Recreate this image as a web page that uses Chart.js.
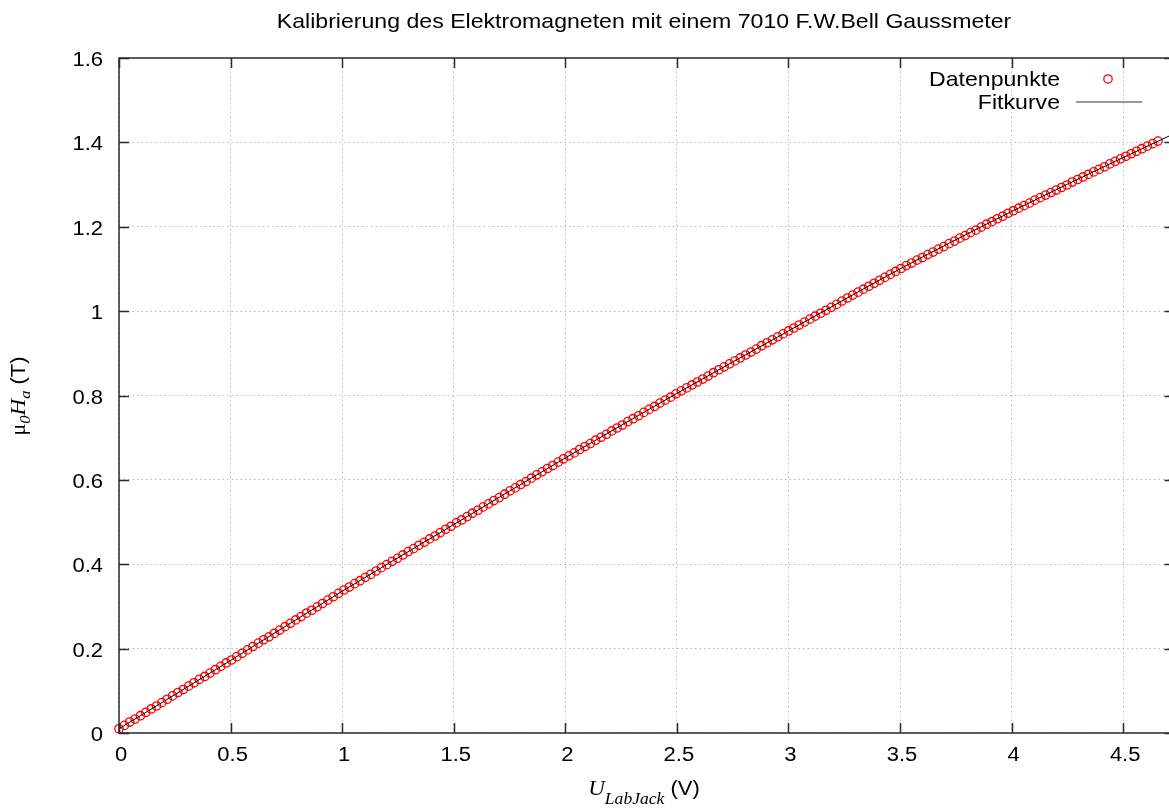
<!DOCTYPE html>
<html>
<head>
<meta charset="utf-8">
<script src="https://cdn.jsdelivr.net/npm/chart.js@4.4.0/dist/chart.umd.min.js"></script>
<style>
  html, body { margin: 0; padding: 0; background: #fff; overflow: hidden; }
  #box { width: 1180px; height: 810px; }
</style>
</head>
<body>
<div id="box"><canvas id="kalib" width="1180" height="810"></canvas></div>
<script>
// Messwerte: LabJack-Spannung (V) und Feld mu0*Ha (T)
var voltage = [
  0, 0.024, 0.048, 0.072, 0.096, 0.120, 0.144, 0.168, 0.192, 0.216,
  0.240, 0.264, 0.288, 0.312, 0.336, 0.360, 0.384, 0.408, 0.432, 0.456,
  0.480, 0.504, 0.528, 0.552, 0.576, 0.600, 0.624, 0.648, 0.672, 0.696,
  0.720, 0.744, 0.768, 0.792, 0.816, 0.840, 0.864, 0.888, 0.912, 0.936,
  0.960, 0.984, 1.008, 1.032, 1.056, 1.080, 1.104, 1.128, 1.152, 1.176,
  1.200, 1.224, 1.248, 1.272, 1.296, 1.320, 1.344, 1.368, 1.392, 1.416,
  1.440, 1.464, 1.488, 1.512, 1.536, 1.560, 1.584, 1.608, 1.632, 1.656,
  1.680, 1.704, 1.728, 1.752, 1.776, 1.800, 1.824, 1.848, 1.872, 1.896,
  1.920, 1.944, 1.968, 1.992, 2.016, 2.040, 2.064, 2.088, 2.112, 2.136,
  2.160, 2.184, 2.208, 2.232, 2.256, 2.280, 2.304, 2.328, 2.352, 2.376,
  2.400, 2.424, 2.448, 2.472, 2.496, 2.520, 2.544, 2.568, 2.592, 2.616,
  2.640, 2.664, 2.688, 2.712, 2.736, 2.760, 2.784, 2.808, 2.832, 2.856,
  2.880, 2.904, 2.928, 2.952, 2.976, 3.000, 3.024, 3.048, 3.072, 3.096,
  3.120, 3.144, 3.168, 3.192, 3.216, 3.240, 3.264, 3.288, 3.312, 3.336,
  3.360, 3.384, 3.408, 3.432, 3.456, 3.480, 3.504, 3.528, 3.552, 3.576,
  3.600, 3.624, 3.648, 3.672, 3.696, 3.720, 3.744, 3.768, 3.792, 3.816,
  3.840, 3.864, 3.888, 3.912, 3.936, 3.960, 3.984, 4.008, 4.032, 4.056,
  4.080, 4.104, 4.128, 4.152, 4.176, 4.200, 4.224, 4.248, 4.272, 4.296,
  4.320, 4.344, 4.368, 4.392, 4.416, 4.440, 4.464, 4.488, 4.512, 4.536,
  4.560, 4.584, 4.608, 4.632, 4.656
];
var field = [
  0.010, 0.018, 0.026, 0.033, 0.041, 0.049, 0.057, 0.064, 0.072, 0.080,
  0.088, 0.096, 0.103, 0.111, 0.119, 0.127, 0.134, 0.142, 0.150, 0.158,
  0.166, 0.173, 0.181, 0.189, 0.197, 0.205, 0.213, 0.221, 0.228, 0.236,
  0.244, 0.252, 0.260, 0.268, 0.276, 0.284, 0.291, 0.299, 0.307, 0.315,
  0.323, 0.331, 0.339, 0.346, 0.354, 0.361, 0.369, 0.376, 0.384, 0.392,
  0.399, 0.407, 0.414, 0.422, 0.430, 0.437, 0.445, 0.452, 0.460, 0.467,
  0.475, 0.483, 0.490, 0.498, 0.505, 0.513, 0.521, 0.528, 0.536, 0.543,
  0.551, 0.558, 0.566, 0.574, 0.581, 0.589, 0.596, 0.604, 0.612, 0.619,
  0.627, 0.634, 0.642, 0.650, 0.657, 0.664, 0.672, 0.679, 0.686, 0.694,
  0.701, 0.708, 0.716, 0.723, 0.730, 0.738, 0.745, 0.752, 0.760, 0.767,
  0.774, 0.782, 0.789, 0.796, 0.804, 0.811, 0.818, 0.825, 0.832, 0.839,
  0.846, 0.854, 0.861, 0.868, 0.875, 0.882, 0.889, 0.896, 0.903, 0.910,
  0.918, 0.925, 0.932, 0.939, 0.946, 0.953, 0.960, 0.967, 0.974, 0.981,
  0.988, 0.995, 1.002, 1.009, 1.016, 1.024, 1.031, 1.038, 1.045, 1.052,
  1.059, 1.066, 1.073, 1.080, 1.087, 1.094, 1.101, 1.108, 1.114, 1.121,
  1.127, 1.134, 1.140, 1.147, 1.153, 1.160, 1.166, 1.173, 1.179, 1.186,
  1.192, 1.199, 1.206, 1.212, 1.219, 1.225, 1.232, 1.238, 1.244, 1.250,
  1.256, 1.263, 1.269, 1.275, 1.281, 1.287, 1.293, 1.299, 1.306, 1.312,
  1.318, 1.324, 1.330, 1.336, 1.342, 1.349, 1.355, 1.361, 1.367, 1.373,
  1.379, 1.385, 1.391, 1.397, 1.403
];

// Fitkurve, Stuetzstellen
var fitVoltage = [0, 0.5, 1, 1.5, 2, 2.5, 3, 3.5, 4, 4.5, 4.73];
var fitField = [0.010, 0.172, 0.336, 0.494, 0.652, 0.805, 0.953, 1.100, 1.236, 1.364, 1.421];

var xTicks = [0, 0.5, 1, 1.5, 2, 2.5, 3, 3.5, 4, 4.5];
var yTicks = [0, 0.2, 0.4, 0.6, 0.8, 1, 1.2, 1.4, 1.6];

var titel = "Kalibrierung des Elektromagneten mit einem 7010 F.W.Bell Gaussmeter";
var legendNames = ["Datenpunkte", "Fitkurve"];

var SANS = '"Liberation Sans", Arial, sans-serif';
var SERIF = '"Liberation Serif", "Times New Roman", serif';
var SX = 1.1; // Schrift etwas breiter

function put(ctx, str, x, y, font, align) {
   ctx.save();
   ctx.font = font;
   ctx.textAlign = align;
   ctx.textBaseline = "alphabetic";
   ctx.fillStyle = "#000";
   ctx.translate(x, y);
   ctx.scale(SX, 1);
   ctx.fillText(str, 0, 0);
   ctx.restore();
}

// mehrere Textstuecke (Index usw.) zentriert nebeneinander
function putRuns(ctx, parts, cx, base) {
   var w = 0;
   parts.forEach(function (p) { ctx.font = p[1]; w += ctx.measureText(p[0]).width * SX; });
   var px = cx - w / 2;
   parts.forEach(function (p) {
      put(ctx, p[0], px, base + p[2], p[1], "left");
      ctx.font = p[1];
      px += ctx.measureText(p[0]).width * SX;
   });
}

var rahmen = {
   id: "rahmen",
   afterDraw: function (chart) {
      var ctx = chart.ctx, a = chart.chartArea;
      var xs = chart.scales.x, ys = chart.scales.y;
      ctx.save();
      ctx.strokeStyle = "#2b2b2b";
      ctx.lineWidth = 1.5;
      ctx.strokeRect(a.left, a.top, a.right - a.left, a.bottom - a.top);
      ctx.beginPath();
      xTicks.forEach(function (v) {
         var px = Math.round(xs.getPixelForValue(v)) + 0.5;
         ctx.moveTo(px, a.bottom); ctx.lineTo(px, a.bottom - 10);
         ctx.moveTo(px, a.top); ctx.lineTo(px, a.top + 10);
      });
      yTicks.forEach(function (v) {
         var py = Math.round(ys.getPixelForValue(v)) + 0.5;
         ctx.moveTo(a.left, py); ctx.lineTo(a.left + 10, py);
         ctx.moveTo(a.right, py); ctx.lineTo(a.right - 10, py);
      });
      ctx.stroke();
      ctx.restore();

      // Achsenbeschriftung
      xTicks.forEach(function (v) {
         put(ctx, String(v), xs.getPixelForValue(v) + 2, a.bottom + 28, "20px " + SANS, "center");
      });
      yTicks.forEach(function (v) {
         put(ctx, String(v), a.left - 16, ys.getPixelForValue(v) + 8, "20px " + SANS, "right");
      });

      put(ctx, titel, 644, 28, "21px " + SANS, "center");

      putRuns(ctx, [
         ["U", "italic 21px " + SERIF, 0],
         ["LabJack", "italic 16px " + SERIF, 9],
         [" (V)", "20px " + SANS, 0]
      ], 644, 795);

      ctx.save();
      ctx.translate(25, 396);
      ctx.rotate(-Math.PI / 2);
      putRuns(ctx, [
         ["\u03bc", "20px " + SERIF, 0],
         ["0", "italic 15px " + SERIF, 5],
         ["H", "italic 21px " + SERIF, 0],
         ["a", "italic 15px " + SERIF, 5],
         [" (T)", "20px " + SANS, 0]
      ], 0, 0);
      ctx.restore();

      // Legende
      put(ctx, legendNames[0], 1060, 86, "21px " + SANS, "right");
      put(ctx, legendNames[1], 1060, 109, "21px " + SANS, "right");
      ctx.save();
      ctx.strokeStyle = "#ff0000";
      ctx.lineWidth = 1.3;
      ctx.beginPath();
      ctx.arc(1108, 79, 4.2, 0, Math.PI * 2);
      ctx.stroke();
      ctx.strokeStyle = "#777";
      ctx.lineWidth = 1.5;
      ctx.beginPath();
      ctx.moveTo(1076, 102); ctx.lineTo(1142, 102);
      ctx.stroke();
      ctx.restore();
   }
};

new Chart("kalib", {
   type: "scatter",
   data: {
      datasets: [{
         type: "line",
         label: legendNames[1],
         data: fitVoltage.map(function (v, i) { return { x: v, y: fitField[i] }; }),
         borderColor: "#000",
         borderWidth: 1,
         pointRadius: 0,
         showLine: true,
         fill: false,
         cubicInterpolationMode: "monotone"
      }, {
         label: legendNames[0],
         data: voltage.map(function (v, i) { return { x: v, y: field[i] }; }),
         pointStyle: "circle",
         pointRadius: 4.2,
         borderWidth: 1.3,
         borderColor: "#ff0000",
         backgroundColor: "rgba(0,0,0,0)",
         clip: 8
      }]
   },
   options: {
      responsive: false,
      animation: false,
      events: [],
      layout: { padding: { top: 58, left: 0, right: 0, bottom: 0 } },
      plugins: { legend: { display: false }, tooltip: { enabled: false }, title: { display: false } },
      scales: {
         x: {
            type: "linear",
            min: 0,
            max: 4.73,
            afterBuildTicks: function (s) { s.ticks = xTicks.map(function (v) { return { value: v }; }); },
            afterFit: function (s) { s.height = 77; },
            ticks: { display: false },
            grid: { color: "#b8b8b8", lineWidth: 1, drawTicks: false },
            border: { display: false, dash: [1.5, 3] }
         },
         y: {
            type: "linear",
            min: 0,
            max: 1.6,
            afterBuildTicks: function (s) { s.ticks = yTicks.map(function (v) { return { value: v }; }); },
            afterFit: function (s) { s.width = 119; },
            ticks: { display: false },
            grid: { color: "#b8b8b8", lineWidth: 1, drawTicks: false },
            border: { display: false, dash: [1.5, 3] }
         }
      }
   },
   plugins: [rahmen]
});
</script>
</body>
</html>
